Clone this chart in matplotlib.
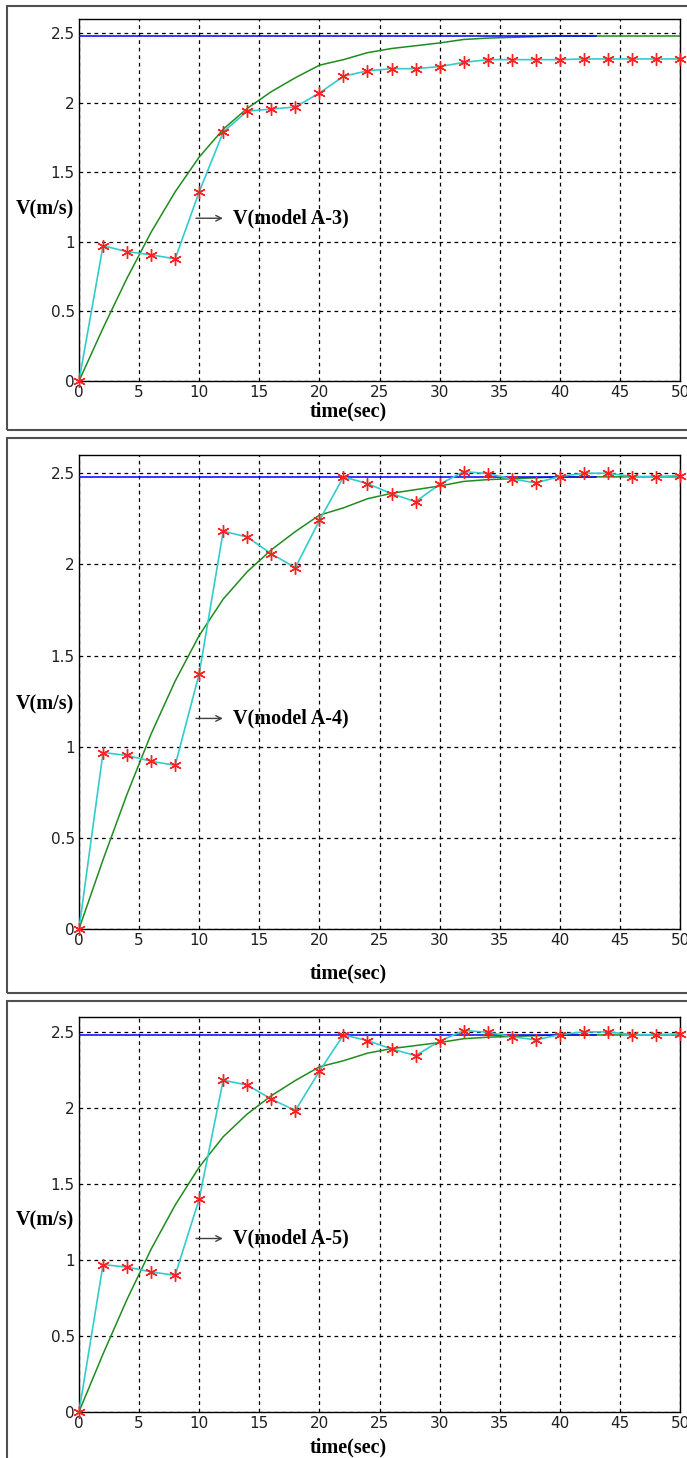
import numpy as np
import matplotlib
matplotlib.use('Agg')
import matplotlib.pyplot as plt
from matplotlib.patches import Rectangle

# sample times (sec)
time = np.arange(0, 52, 2)

# reference response (green), same in all panels
v_ref = [0, 0.38, 0.74, 1.07, 1.36, 1.61, 1.81, 1.96, 2.08, 2.18, 2.27, 2.31, 2.36,
         2.39, 2.41, 2.43, 2.455, 2.465, 2.47, 2.475, 2.48, 2.48, 2.48, 2.48, 2.48, 2.48]

# set point (blue)
v_set = 2.48
t_set = [0, 43]

# model responses (cyan with red stars)
v_a3 = [0, 0.972, 0.93, 0.907, 0.878, 1.36, 1.79, 1.94, 1.955, 1.97, 2.07, 2.19, 2.23,
        2.245, 2.245, 2.26, 2.29, 2.31, 2.31, 2.31, 2.31, 2.315, 2.315, 2.315, 2.315, 2.315]
v_a4 = [0, 0.968, 0.952, 0.92, 0.898, 1.40, 2.182, 2.15, 2.058, 1.982, 2.241, 2.48, 2.443,
        2.388, 2.344, 2.439, 2.509, 2.498, 2.469, 2.447, 2.482, 2.50, 2.50, 2.482, 2.482, 2.487]
v_a5 = list(v_a4)

models = ['V(model A-3)', 'V(model A-4)', 'V(model A-5)']
series = [v_a3, v_a4, v_a5]

W, H = 687, 1458
fig = plt.figure(figsize=(W / 100, H / 100), dpi=100)
fig.patch.set_facecolor('white')

# panel frames (pixels, from top): (top, bottom)
frames = [(6, 430), (438, 993), (1001, 1475)]
# axes extents (pixels, from top): (top, bottom)
axes_px = [(19.3, 381), (455, 929), (1016.7, 1411.7)]
label_y = [1.23, 1.23, 1.26]
arrow_y = [1.17, 1.155, 1.14]
xlabel_px = [411, 973, 1447]

for i in range(3):
    ft, fb = frames[i]
    fig.add_artist(Rectangle((7 / W, 1 - fb / H), 1.2, (fb - ft) / H,
                             transform=fig.transFigure, fill=False,
                             edgecolor='#505050', linewidth=1.5))
    top, bot = axes_px[i]
    ax = fig.add_axes([79 / W, 1 - bot / H, (680 - 79) / W, (bot - top) / H])
    ax.plot(time, v_ref, color='#1f8c1f', linewidth=1.1, zorder=2)
    ax.plot(t_set, [v_set, v_set], color='#0000ff', linewidth=1.1, zorder=3)
    ax.plot(time, series[i], color='#33cccc', linewidth=1.2, zorder=4)
    ax.plot(time, series[i], linestyle='none', marker=(6, 2, 0), markersize=9,
            markeredgecolor='#ff2020', markeredgewidth=1.0, zorder=5, clip_on=False)
    ax.set_xlim(0, 50)
    ax.set_ylim(0, 2.6)
    ax.set_xticks(np.arange(0, 55, 5))
    ax.set_yticks([0, 0.5, 1, 1.5, 2, 2.5])
    ax.set_yticklabels(['0', '0.5', '1', '1.5', '2', '2.5'])
    ax.grid(True, color='black', linestyle=(0, (3, 3)), linewidth=0.9)
    ax.tick_params(direction='in', length=0, labelsize=11, pad=3,
                   labelcolor='#202020')
    for lab in ax.get_xticklabels() + ax.get_yticklabels():
        lab.set_family('DejaVu Sans')
    for s in ax.spines.values():
        s.set_color('black')
        s.set_linewidth(1.0)
    ax.text(-0.008, label_y[i], 'V(m/s)', transform=ax.get_yaxis_transform(),
            ha='right', va='center', family='Liberation Serif', fontweight='bold',
            fontsize=14.5)
    ax.annotate('', xy=(12.2, arrow_y[i]), xytext=(9.5, arrow_y[i]),
                arrowprops=dict(arrowstyle='->', color='#404040', lw=1.0))
    ax.text(12.8, arrow_y[i], models[i], ha='left', va='center',
            family='Liberation Serif', fontweight='bold', fontsize=14.5)
    fig.text((79 + 22.4 * 12.02) / W, 1 - xlabel_px[i] / H, 'time(sec)',
             ha='center', va='center', family='Liberation Serif',
             fontweight='bold', fontsize=14.5)

fig.savefig('out.png', dpi=100)
